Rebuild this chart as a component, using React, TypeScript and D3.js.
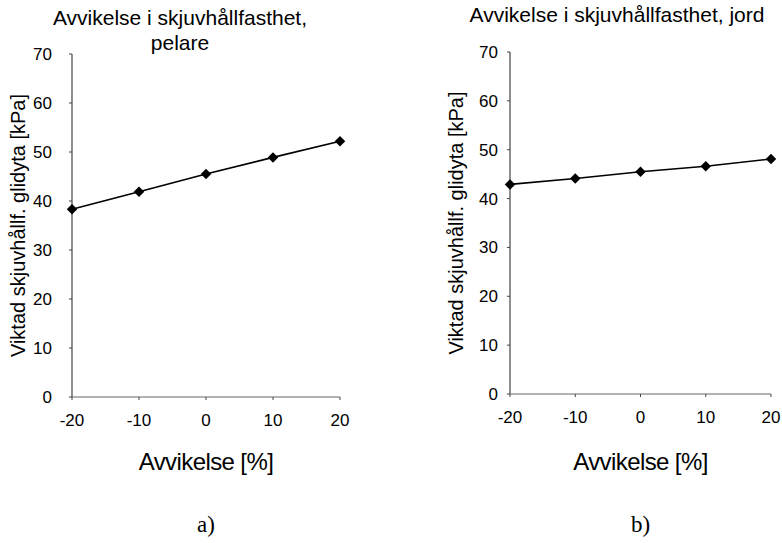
import React from 'react';
import * as d3 from 'd3';

// Avvikelse [%]
const deviation = [-20, -10, 0, 10, 20];
// viktad skjuvhållfasthet längs glidytan [kPa]
const pelareValues = [38.3, 41.9, 45.5, 48.9, 52.2];
const jordValues = [42.9, 44.1, 45.5, 46.6, 48.1];
const yTicks = [0, 10, 20, 30, 40, 50, 60, 70];
const xTicks = [-20, -10, 0, 10, 20];

const yLabel = 'Viktad skjuvhållf. glidyta [kPa]';
const xLabel = 'Avvikelse [%]';

const font = '"Liberation Sans", Arial, sans-serif';

interface PanelProps {
    values: number[];
    titleLines: string[];
    titleX: number;
    titleY: number[];
    x0: number;
    x1: number;
    yTop: number;
    yBottom: number;
    yLabelX: number;
    tickGap: number;
    caption: string;
}

const Panel: React.FC<PanelProps> = ({values, titleLines, titleX, titleY, x0, x1, yTop, yBottom, yLabelX, tickGap, caption}) => {
    const x = d3.scaleLinear().domain([-20, 20]).range([x0, x1]);
    const y = d3.scaleLinear().domain([0, 70]).range([yBottom, yTop]);

    const line = d3.line<number>()
        .x((_, i) => x(deviation[i]))
        .y(d => y(d));

    const diamond = d3.symbol().type(d3.symbolDiamond2).size(70)()!;
    const midX = (x0 + x1) / 2;
    const midY = (yTop + yBottom) / 2;

    return (
        <g>
            {titleLines.map((t, i) => (
                <text key={i} x={titleX} y={titleY[i]} textAnchor="middle" fontSize={21} fontFamily={font}>{t}</text>
            ))}
            {/* axlar */}
            <line x1={x0} x2={x0} y1={yTop} y2={yBottom} stroke="#444" strokeWidth={1.2}/>
            <line x1={x0} x2={x1} y1={yBottom} y2={yBottom} stroke="#666" strokeWidth={1.2}/>
            {yTicks.map(t => (
                <g key={'y' + t}>
                    <line x1={x0 - 3} x2={x0} y1={y(t)} y2={y(t)} stroke="#444"/>
                    <text x={x0 - tickGap} y={y(t)} dy="0.35em" textAnchor="end" fontSize={17}
                          fontFamily={font}>{t}</text>
                </g>
            ))}
            {xTicks.map(t => (
                <g key={'x' + t}>
                    <line x1={x(t)} x2={x(t)} y1={yBottom} y2={yBottom + 3} stroke="#444"/>
                    <text x={x(t)} y={yBottom + 23} dy="0.35em" textAnchor="middle" fontSize={17}
                          fontFamily={font}>{t}</text>
                </g>
            ))}
            <path d={line(values)!} fill="none" stroke="#000" strokeWidth={1.6}/>
            {values.map((v, i) => (
                <path key={i} d={diamond} transform={`translate(${x(deviation[i])},${y(v)})`} fill="#000"/>
            ))}
            <text transform={`translate(${yLabelX},${midY}) rotate(-90)`} textAnchor="middle" dy="0.35em"
                  fontSize={20} fontFamily={font}>{yLabel}</text>
            <text x={midX} y={470} textAnchor="middle" fontSize={24} fontFamily={font}
                  letterSpacing={-0.6}>{xLabel}</text>
            <text x={midX} y={532} textAnchor="middle" fontSize={23}
                  fontFamily='"Liberation Serif", "Times New Roman", serif'>{caption}</text>
        </g>
    );
};

export default function App() {
    return (
        <div style={{position: 'absolute', left: 0, top: 0}}>
            <svg width={782} height={543} style={{display: 'block', background: '#fff'}}>
                <Panel values={pelareValues} titleLines={['Avvikelse i skjuvhållfasthet,', 'pelare']}
                       titleX={180} titleY={[25, 50]} x0={72} x1={340} yTop={54} yBottom={397}
                       yLabelX={18} tickGap={20} caption="a)"/>
                <Panel values={jordValues} titleLines={['Avvikelse i skjuvhållfasthet, jord']}
                       titleX={617} titleY={[22]} x0={510} x1={771} yTop={52} yBottom={394}
                       yLabelX={456} tickGap={12} caption="b)"/>
            </svg>
        </div>
    );
}
